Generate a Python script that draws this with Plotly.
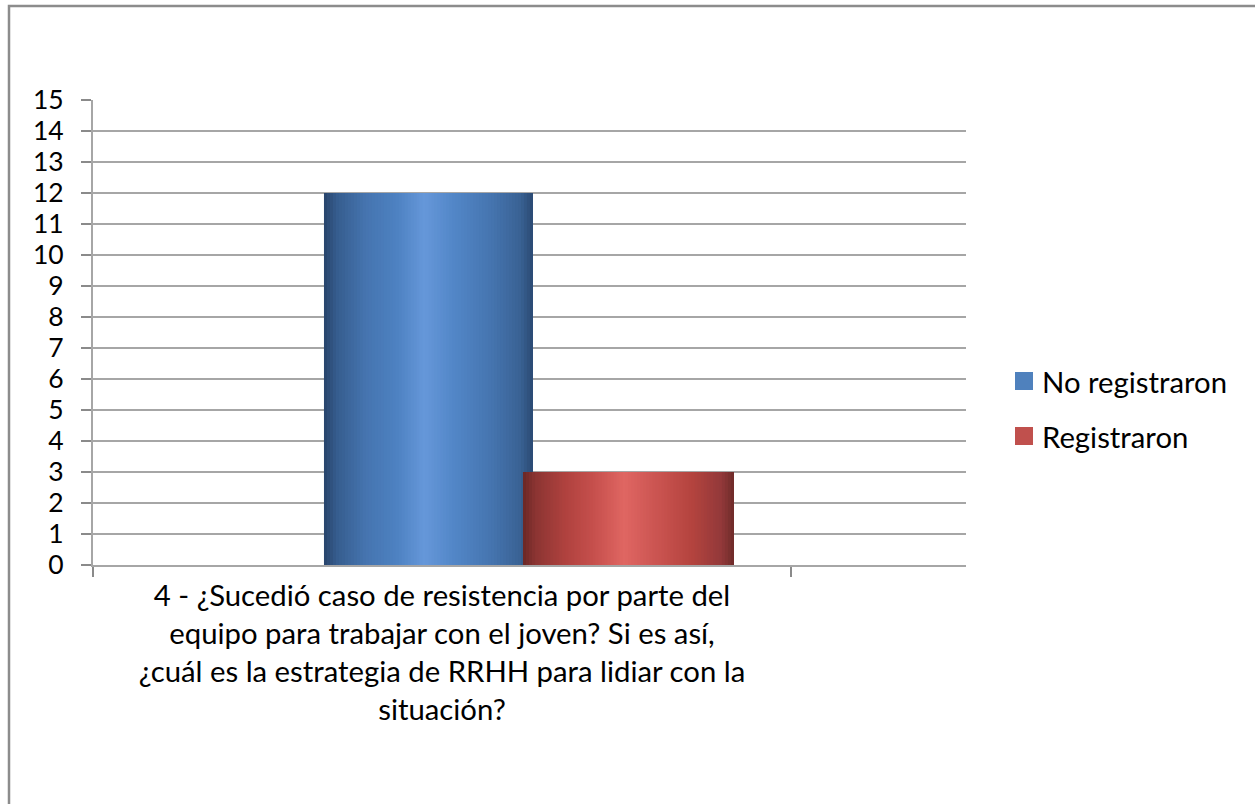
import plotly.graph_objects as go

# Survey question and counts per response group
categories = ["4 - ¿Sucedió caso de resistencia por parte del<br>equipo para trabajar con el joven? Si es así,<br>¿cuál es la estrategia de RRHH para lidiar con la<br>situación?"]
series_names = ["No registraron", "Registraron"]
no_registraron = [12]
registraron = [3]
y_ticks = list(range(0, 16))

# Figure geometry (pixels)
W, H = 1255, 804
PL, PR, PT, PB = 93, 966, 100, 565


def px_x(px):
    return (px - PL) / (PR - PL)


def px_y(py):
    return (PB - py) / (PB - PT)


def hex_to_rgb(h):
    h = h.lstrip("#")
    return tuple(int(h[i:i + 2], 16) for i in (0, 2, 4))


def gradient_color(stops, t):
    for (t0, c0), (t1, c1) in zip(stops, stops[1:]):
        if t0 <= t <= t1:
            a = (t - t0) / (t1 - t0) if t1 > t0 else 0
            r0, g0, b0 = hex_to_rgb(c0)
            r1, g1, b1 = hex_to_rgb(c1)
            return "rgb(%d,%d,%d)" % (r0 + (r1 - r0) * a, g0 + (g1 - g0) * a, b0 + (b1 - b0) * a)
    return stops[-1][1]


blue_stops = [(0.0, "#28446a"), (0.06, "#365d8e"), (0.2, "#4675b0"), (0.35, "#4e82c2"),
              (0.48, "#6698da"), (0.62, "#5387c8"), (0.8, "#4675b0"), (0.94, "#3a6294"), (1.0, "#2b4a72")]
red_stops = [(0.0, "#6a2826"), (0.06, "#8c3533"), (0.2, "#b0423f"), (0.35, "#c9524f"),
             (0.48, "#e06763"), (0.62, "#cd5653"), (0.8, "#b5443f"), (0.94, "#93393a"), (1.0, "#6e2b2a")]

# Bar placement inside the category slot (category units)
bar_specs = [
    (no_registraron, blue_stops, -0.1691, 0.2994),
    (registraron, red_stops, 0.1160, 0.3023),
]

fig = go.Figure()
N = 70
for values, stops, off0, width in bar_specs:
    step = width / N
    for i in range(N):
        t = (i + 0.5) / N
        w = min(step * 2.5, width - i * step)
        fig.add_trace(go.Bar(
            x=categories, y=values,
            offset=off0 + i * step, width=w,
            marker=dict(color=gradient_color(stops, t), line=dict(width=0)),
            showlegend=False, hoverinfo="skip",
        ))

FONT = "Lato"
TEXT_SIZE = 29.3
grid_col = "#a6a6a6"

fig.update_layout(
    width=W, height=H,
    margin=dict(l=PL, r=W - PR, t=PT, b=H - PB),
    paper_bgcolor="white", plot_bgcolor="white",
    barmode="overlay",
    showlegend=False,
    font=dict(family=FONT, size=26, color="#000000"),
    xaxis=dict(
        type="category",
        range=[-0.5, 0.5 + (966 - 791) / 698],
        tickson="boundaries", ticks="outside", ticklen=10, tickwidth=2, tickcolor="#8a8a8a",
        showgrid=False, showline=True, linecolor=grid_col, linewidth=2,
        tickfont=dict(family=FONT, size=TEXT_SIZE, color="#000000"),
        ticklabelstandoff=4,
        zeroline=False, fixedrange=True,
    ),
    yaxis=dict(
        range=[0, 15], tickvals=y_ticks, ticktext=[str(v) for v in y_ticks],
        ticks="outside", ticklen=10, tickwidth=2, tickcolor="#8a8a8a",
        showgrid=True, gridcolor=grid_col, gridwidth=2,
        showline=True, linecolor=grid_col, linewidth=2,
        zeroline=False, ticklabelstandoff=12,
        tickfont=dict(family=FONT, size=26.5, color="#000000"),
    ),
)

# Outer chart border
fig.add_shape(type="rect", xref="paper", yref="paper",
              x0=px_x(9), x1=px_x(1300), y0=px_y(6), y1=px_y(850),
              line=dict(color="#8c8c8c", width=2.5), fillcolor="rgba(0,0,0,0)", layer="below")

# Legend
legend_colors = ["#4f81bd", "#c0504d"]
legend_tops = [372, 427]
for name, col, top in zip(series_names, legend_colors, legend_tops):
    fig.add_shape(type="rect", xref="paper", yref="paper",
                  x0=px_x(1015), x1=px_x(1033), y0=px_y(top + 18), y1=px_y(top),
                  line=dict(width=0), fillcolor=col)
    fig.add_annotation(xref="paper", yref="paper", x=px_x(1040), y=px_y(top + 9),
                       text=name, showarrow=False, xanchor="left", yanchor="middle",
                       font=dict(family=FONT, size=TEXT_SIZE, color="#000000"))

fig.write_html("out.html")
